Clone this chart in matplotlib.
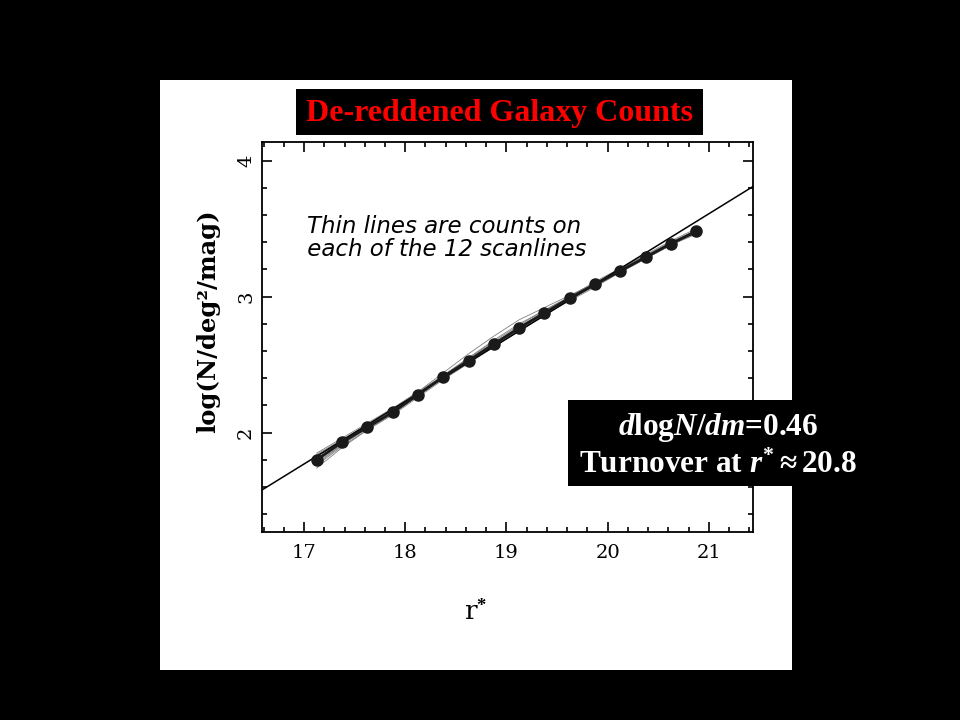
# galaxy number counts, de-reddened, with per-scanline counts

import numpy as np
import matplotlib
matplotlib.use('Agg')
from matplotlib import pyplot as plt
from matplotlib.patches import Rectangle
from matplotlib.ticker import MultipleLocator

# magnitude bins and mean counts
mag = [17.125, 17.375, 17.625, 17.875, 18.125, 18.375, 18.625, 18.875,
       19.125, 19.375, 19.625, 19.875, 20.125, 20.375, 20.625, 20.875]
logN = [1.80, 1.93, 2.04, 2.15, 2.28, 2.41, 2.53, 2.65,
        2.77, 2.88, 2.99, 3.09, 3.19, 3.29, 3.39, 3.48]

# counts on each of the 12 scanlines
scan1 = [1.84, 1.95, 2.06, 2.17, 2.30, 2.44, 2.58, 2.71, 2.83, 2.92, 3.01, 3.10, 3.21, 3.30, 3.40, 3.48]
scan2 = [1.76, 1.90, 2.02, 2.14, 2.27, 2.40, 2.52, 2.64, 2.76, 2.87, 2.98, 3.08, 3.18, 3.28, 3.38, 3.47]
scan3 = [1.82, 1.94, 2.05, 2.16, 2.29, 2.42, 2.55, 2.67, 2.79, 2.90, 3.00, 3.10, 3.20, 3.30, 3.40, 3.49]
scan4 = [1.78, 1.91, 2.03, 2.15, 2.27, 2.40, 2.52, 2.63, 2.75, 2.87, 2.98, 3.09, 3.19, 3.29, 3.39, 3.47]
scan5 = [1.74, 1.89, 2.02, 2.13, 2.26, 2.39, 2.51, 2.64, 2.76, 2.88, 2.99, 3.09, 3.18, 3.28, 3.38, 3.46]
scan6 = [1.81, 1.93, 2.05, 2.16, 2.28, 2.41, 2.54, 2.66, 2.78, 2.89, 2.99, 3.09, 3.20, 3.30, 3.39, 3.49]
scan7 = [1.85, 1.96, 2.07, 2.18, 2.30, 2.42, 2.54, 2.66, 2.77, 2.88, 2.99, 3.10, 3.20, 3.29, 3.39, 3.48]
scan8 = [1.79, 1.92, 2.03, 2.14, 2.27, 2.41, 2.53, 2.65, 2.77, 2.89, 3.00, 3.11, 3.21, 3.31, 3.41, 3.50]
scan9 = [1.80, 1.94, 2.04, 2.15, 2.28, 2.40, 2.52, 2.64, 2.76, 2.87, 2.97, 3.07, 3.18, 3.28, 3.38, 3.47]
scan10 = [1.77, 1.91, 2.04, 2.16, 2.29, 2.42, 2.55, 2.68, 2.80, 2.90, 3.00, 3.09, 3.19, 3.29, 3.39, 3.48]
scan11 = [1.83, 1.93, 2.03, 2.14, 2.27, 2.40, 2.51, 2.63, 2.75, 2.86, 2.98, 3.08, 3.18, 3.28, 3.38, 3.47]
scan12 = [1.80, 1.92, 2.04, 2.15, 2.28, 2.41, 2.53, 2.65, 2.77, 2.88, 2.99, 3.09, 3.19, 3.30, 3.40, 3.49]
scans = [scan1, scan2, scan3, scan4, scan5, scan6, scan7, scan8, scan9, scan10, scan11, scan12]

# fitted power law: slope 0.46
fit_slope = 0.46
fit_mag = [16.585, 21.435]
fit_logN = [1.579, 3.810]

plt.rcParams['mathtext.fontset'] = 'custom'
plt.rcParams['mathtext.rm'] = 'Liberation Serif:bold'
plt.rcParams['mathtext.it'] = 'Liberation Serif:bold:italic'
plt.rcParams['mathtext.bf'] = 'Liberation Serif:bold'

fig = plt.figure(figsize=(9.6, 7.2), dpi=100, facecolor='black')

# white slide panel
fig.patches.append(Rectangle((160/960, 1-670/720), 632/960, 590/720,
                             transform=fig.transFigure, facecolor='white',
                             edgecolor='none', zorder=-1))

ax = fig.add_axes([262/960, 1-532/720, 491/960, 390/720])
ax.set_zorder(1)
ax.set_facecolor('white')

for s in scans:
    ax.plot(mag, s, color='0.5', lw=0.6)
ax.plot(fit_mag, fit_logN, color='black', lw=1.1)
ax.plot(mag, logN, color='0.1', lw=2.0, marker='o', ms=8)

ax.set_xlim(16.585, 21.435)
ax.set_ylim(1.27, 4.137)
ax.xaxis.set_major_locator(MultipleLocator(1))
ax.xaxis.set_minor_locator(MultipleLocator(0.2))
ax.yaxis.set_major_locator(MultipleLocator(1))
ax.yaxis.set_minor_locator(MultipleLocator(0.2))
ax.tick_params(which='both', direction='in', top=True, right=True, width=1.2,
               labelsize=14)
ax.tick_params(which='major', length=7)
ax.tick_params(which='minor', length=3.5)
for sp in ax.spines.values():
    sp.set_linewidth(1.3)

for lab in ax.get_xticklabels():
    lab.set_family('DejaVu Serif')
for lab in ax.get_yticklabels():
    lab.set_family('DejaVu Serif')
    lab.set_rotation(90)
    lab.set_va('center')
ax.tick_params(axis='x', pad=9)
ax.tick_params(axis='y', pad=5)

ax.set_xlabel('r$^{*}$', fontsize=19, family='DejaVu Serif')
ax.xaxis.set_label_coords(0.435, -0.17)
ax.set_ylabel('log(N/deg²/mag)', fontsize=17.5, family='DejaVu Serif',
              weight='bold')
ax.yaxis.set_label_coords(-0.085, 0.54)

# note in the plot
ax.text(0.37, 0.754, 'Thin lines are counts on\n each of the 12 scanlines',
        transform=ax.transAxes, ha='center', va='center', fontsize=16.5,
        style='italic', family='DejaVu Sans', linespacing=1.0)

# title box
fig.patches.append(Rectangle((296/960, 1-135/720), 407/960, 46/720,
                             transform=fig.transFigure, facecolor='black',
                             edgecolor='none', zorder=5))
fig.text(499/960, 1-113/720, 'De-reddened Galaxy Counts', color='red',
         fontsize=23, weight='bold', family='Liberation Serif',
         ha='center', va='center', zorder=6)

# slope box
fig.patches.append(Rectangle((568/960, 1-486/720), 300/960, 86/720,
                             transform=fig.transFigure, facecolor='black',
                             edgecolor='none', zorder=5))
fig.text(718/960, 1-427/720, r'$d$log$N$/$dm$=0.%d' % round(fit_slope*100),
         color='white', fontsize=22.5, weight='bold', family='Liberation Serif',
         ha='center', va='center', zorder=6)
fig.text(718/960, 1-465/720, r'Turnover at $r^{*}\approx\mathit{20.8}$',
         color='white', fontsize=22.5, weight='bold', family='Liberation Serif',
         ha='center', va='center', zorder=6)

plt.savefig('out.png', dpi=100, facecolor='black')
